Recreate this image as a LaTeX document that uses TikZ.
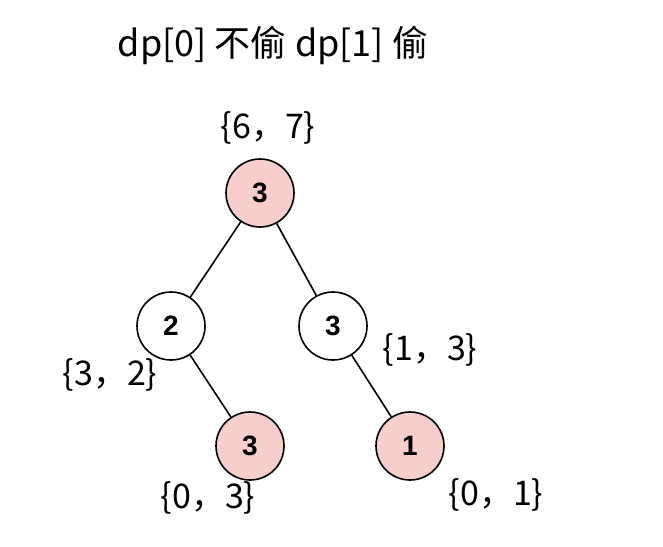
\documentclass[tikz,border=0pt]{standalone}
\usepackage{fontspec}
\setmainfont{Liberation Sans}
\newfontfamily\cjk{Noto Sans CJK SC}
\definecolor{robfill}{HTML}{F8CECC}
\newcommand{\housefont}{\fontsize{28}{32}\selectfont\bfseries}
\begin{document}
\begin{tikzpicture}[x=1pt,y=-1pt,
        house/.style={circle, draw, line width=1.6pt, minimum size=68pt,
            inner sep=0pt, font=\housefont},
        robbed/.style={house, fill=robfill},
        pair/.style={font=\cjk\fontsize{34}{38}\selectfont}]
    \useasboundingbox (0,0) rectangle (663,546);
    \node[font=\cjk\fontsize{36}{40}\selectfont] (title) at (273,45) {dp[0] 不偷 dp[1] 偷};
    % tree
    \node[robbed] (root) at (260,193) {3};
    \node[house] (left) at (171,326) {2};
    \node[house] (right) at (333,326) {3};
    \node[robbed] (leftleaf) at (250,446) {3};
    \node[robbed] (rightleaf) at (410,446) {1};
    \draw[line width=1.6pt] (root) -- (left);
    \draw[line width=1.6pt] (root) -- (right);
    \draw[line width=1.6pt] (left) -- (leftleaf);
    \draw[line width=1.6pt] (right) -- (rightleaf);
    % dp values
    \node[pair] (rootval) at (268,128) {\{6，7\}};
    \node[pair] (leftval) at (110,375) {\{3，2\}};
    \node[pair] (rightval) at (430,350) {\{1，3\}};
    \node[pair] (leftleafval) at (208,498) {\{0，3\}};
    \node[pair] (rightleafval) at (496,495) {\{0，1\}};
\end{tikzpicture}
\end{document}
